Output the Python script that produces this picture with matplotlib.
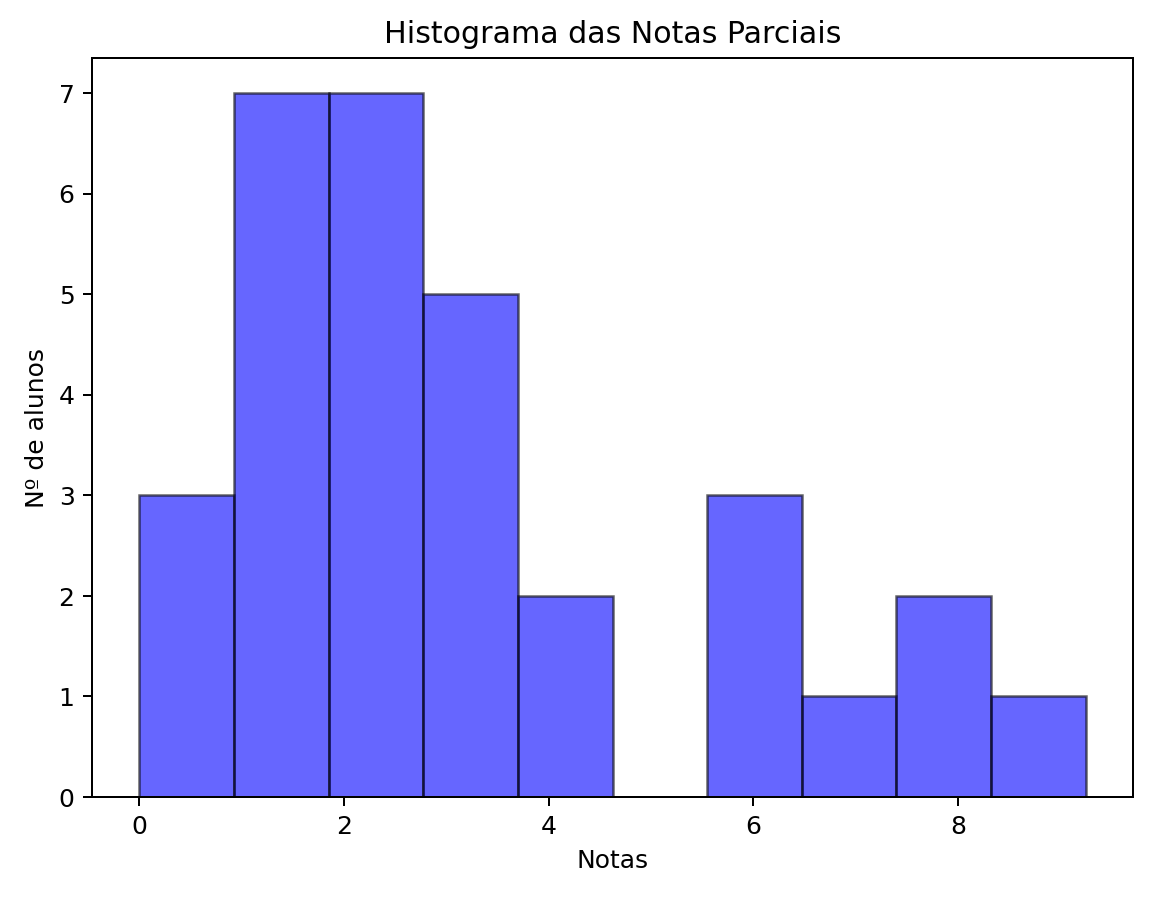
import numpy as np
import matplotlib.pyplot as plt

# Histogram data
bin_edges = [0.0, 0.925, 1.85, 2.775, 3.7, 4.625, 5.55, 6.475, 7.4, 8.325, 9.25]
counts = [3, 7, 7, 5, 2, 0, 3, 1, 2, 1]

fig, ax = plt.subplots(figsize=(6.4, 4.99), dpi=180)

ax.hist(bin_edges[:-1], bins=bin_edges, weights=counts,
        color='blue', alpha=0.6, edgecolor='black')

ax.set_title('Histograma das Notas Parciais')
ax.set_xlabel('Notas')
ax.set_ylabel('Nº de alunos')

fig.subplots_adjust(left=0.0799, right=0.9835, top=0.9354, bottom=0.1125)
fig.savefig('out.png', dpi=180)
